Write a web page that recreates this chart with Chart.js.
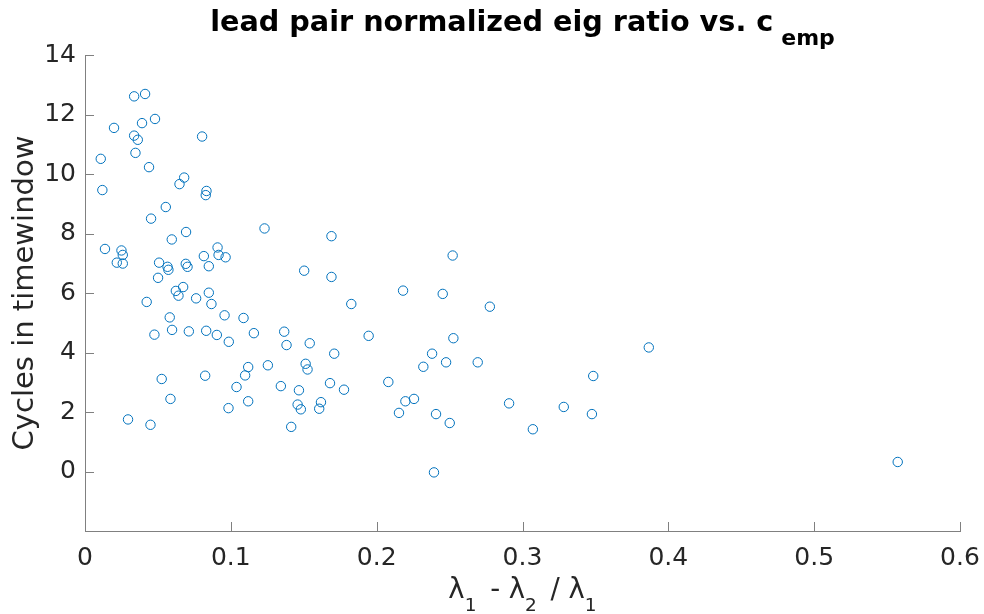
<!DOCTYPE html>
<html>
<head>
<meta charset="utf-8">
<script src="https://cdn.jsdelivr.net/npm/chart.js@4"></script>
<style>
body { margin:0; background:#fff; }
#wrap { width:984px; height:614px; position:relative; }
</style>
</head>
<body>
<div id="wrap"><canvas id="scatter"></canvas></div>
<script>
// eigenvalue gap (x) vs cycles in timewindow (y)
var eigGap = [0.0337,0.0412,0.0199,0.0480,0.0391,0.0337,0.0362,0.0346,0.0803,0.0108,
              0.0439,0.0119,0.0680,0.0648,0.0833,0.0828,0.0554,0.0453,0.1231,0.0693,
              0.0595,0.0137,0.0250,0.0259,0.0218,0.0259,0.0909,0.0916,0.0964,0.0815,
              0.0508,0.0566,0.0572,0.0691,0.0703,0.0849,0.0501,0.1503,0.1690,0.1690,
              0.0423,0.0623,0.0641,0.0673,0.0849,0.0762,0.0867,0.0581,0.0597,0.0476,
              0.0712,0.0831,0.0904,0.0957,0.1087,0.0986,0.1158,0.1366,0.1382,0.1541,
              0.1254,0.1119,0.1098,0.0824,0.0526,0.1039,0.1343,0.1513,0.1526,0.1467,
              0.1680,0.0586,0.0984,0.1119,0.1458,0.1480,0.1606,0.1618,0.0295,0.0449,
              0.1414,0.2181,0.2453,0.1826,0.2776,0.1945,0.2526,0.1709,0.2380,0.2320,
              0.2476,0.2693,0.3866,0.3485,0.1776,0.2080,0.2197,0.2256,0.2153,0.2407,
              0.2501,0.2908,0.3071,0.3283,0.3476,0.2393,0.5573,0.2521];
var cycles = [12.61,12.69,11.55,11.85,11.71,11.29,11.15,10.71,11.26,10.51,
              10.23,9.46,9.88,9.66,9.43,9.29,8.89,8.50,8.17,8.05,
              7.80,7.48,7.43,7.28,7.02,6.99,7.53,7.28,7.20,7.24,
              7.02,6.88,6.78,6.98,6.88,6.90,6.51,6.75,7.91,6.54,
              5.70,6.07,5.91,6.20,6.01,5.82,5.63,5.18,4.76,4.60,
              4.71,4.73,4.59,5.25,5.16,4.36,4.65,4.70,4.25,4.31,
              3.57,3.51,3.23,3.22,3.11,2.84,2.87,3.62,3.43,2.73,
              2.97,2.44,2.13,2.36,2.25,2.09,2.11,2.33,1.75,1.57,
              1.50,6.08,5.97,5.63,5.54,4.56,4.48,3.96,3.96,3.52,
              3.67,3.67,4.17,3.21,2.75,3.01,2.36,2.44,1.97,1.93,
              1.63,2.29,1.42,2.17,1.93,-0.03,0.32,7.26];
var xTicks = [0,0.1,0.2,0.3,0.4,0.5,0.6];
var yTicks = [0,2,4,6,8,10,12,14];

var txtColor = '#262626';
var axColor = '#808080';
var fontFam = '"DejaVu Sans", sans-serif';

var points = [];
for (var i=0;i<eigGap.length;i++){
    points.push({x:eigGap[i], y:cycles[i]});
}

// text made of pieces, some of them subscripts (size, drop, gap after)
function drawParts(ctx, parts, x, y, bold){
    var w = 0;
    for (var i=0;i<parts.length;i++){
        ctx.font = (bold ? 'bold ' : '') + parts[i].s + 'px ' + fontFam;
        w += ctx.measureText(parts[i].t).width + (parts[i].gap || 0);
    }
    var cx = x - w/2;
    for (var j=0;j<parts.length;j++){
        ctx.font = (bold ? 'bold ' : '') + parts[j].s + 'px ' + fontFam;
        ctx.fillText(parts[j].t, cx, y + (parts[j].dy || 0));
        cx += ctx.measureText(parts[j].t).width + (parts[j].gap || 0);
    }
}

var decorPlugin = {
    id:'decor',
    afterDraw:function(chart){
        var ctx = chart.ctx;
        var area = chart.chartArea;
        var xs = chart.scales.x, ys = chart.scales.y;
        ctx.save();
        // inward ticks
        ctx.strokeStyle = axColor;
        ctx.lineWidth = 1;
        ctx.beginPath();
        for (var i=0;i<yTicks.length;i++){
            var py = Math.round(ys.getPixelForValue(yTicks[i])) + 0.5;
            ctx.moveTo(area.left, py);
            ctx.lineTo(area.left + 9, py);
        }
        for (var k=0;k<xTicks.length;k++){
            var px = Math.round(xs.getPixelForValue(xTicks[k])) + 0.5;
            ctx.moveTo(px, area.bottom);
            ctx.lineTo(px, area.bottom - 9);
        }
        ctx.stroke();

        ctx.textBaseline = 'alphabetic';
        ctx.textAlign = 'left';
        var mid = (area.left + area.right)/2;
        ctx.fillStyle = '#000';
        drawParts(ctx, [{t:'lead pair normalized eig ratio vs. c', s:28.7, gap:8},
                        {t:'emp', s:22, dy:14}], mid, 31, true);
        ctx.fillStyle = txtColor;
        drawParts(ctx, [{t:'λ', s:27.5},{t:'1', s:18.5, dy:13.4, gap:5},
                        {t:' - λ', s:27.5},{t:'2', s:18.5, dy:13.4, gap:5},
                        {t:' / λ', s:27.5},{t:'1', s:18.5, dy:13.4}], mid, 598, false);

        ctx.translate(33, (area.top + area.bottom)/2);
        ctx.rotate(-Math.PI/2);
        ctx.textAlign = 'center';
        ctx.font = '29px ' + fontFam;
        ctx.fillText('Cycles in timewindow', 0, 0);
        ctx.restore();
    }
};

new Chart(document.getElementById('scatter'), {
    type:'scatter',
    data:{
        datasets:[{
            label:'cycles',
            data:points,
            pointStyle:'circle',
            pointRadius:4.7,
            pointBorderWidth:1,
            pointBorderColor:'#0072BD',
            pointBackgroundColor:'rgba(0,0,0,0)',
            pointHoverRadius:4.7
        }]
    },
    options:{
        responsive:true,
        maintainAspectRatio:false,
        animation:false,
        layout:{padding:{top:55, right:24, left:0, bottom:0}},
        plugins:{legend:{display:false}, tooltip:{enabled:false}},
        scales:{
            x:{
                type:'linear', min:0, max:0.6,
                grid:{display:false, drawTicks:false},
                border:{display:true, color:axColor, width:1},
                afterBuildTicks:function(s){ s.ticks = xTicks.map(function(v){return {value:v};}); },
                ticks:{
                    color:txtColor, padding:12,
                    font:{family:fontFam, size:25},
                    callback:function(v){ return String(v); }
                },
                afterFit:function(s){ s.height = 83; s.paddingLeft = 0; s.paddingRight = 0; }
            },
            y:{
                type:'linear', min:-2, max:14,
                grid:{display:false, drawTicks:false},
                border:{display:true, color:axColor, width:1},
                afterBuildTicks:function(s){ s.ticks = yTicks.map(function(v){return {value:v};}); },
                ticks:{
                    color:txtColor, padding:9,
                    font:{family:fontFam, size:25}
                },
                afterFit:function(s){ s.width = 85; s.paddingTop = 0; s.paddingBottom = 0; }
            }
        }
    },
    plugins:[decorPlugin]
});
</script>
</body>
</html>
